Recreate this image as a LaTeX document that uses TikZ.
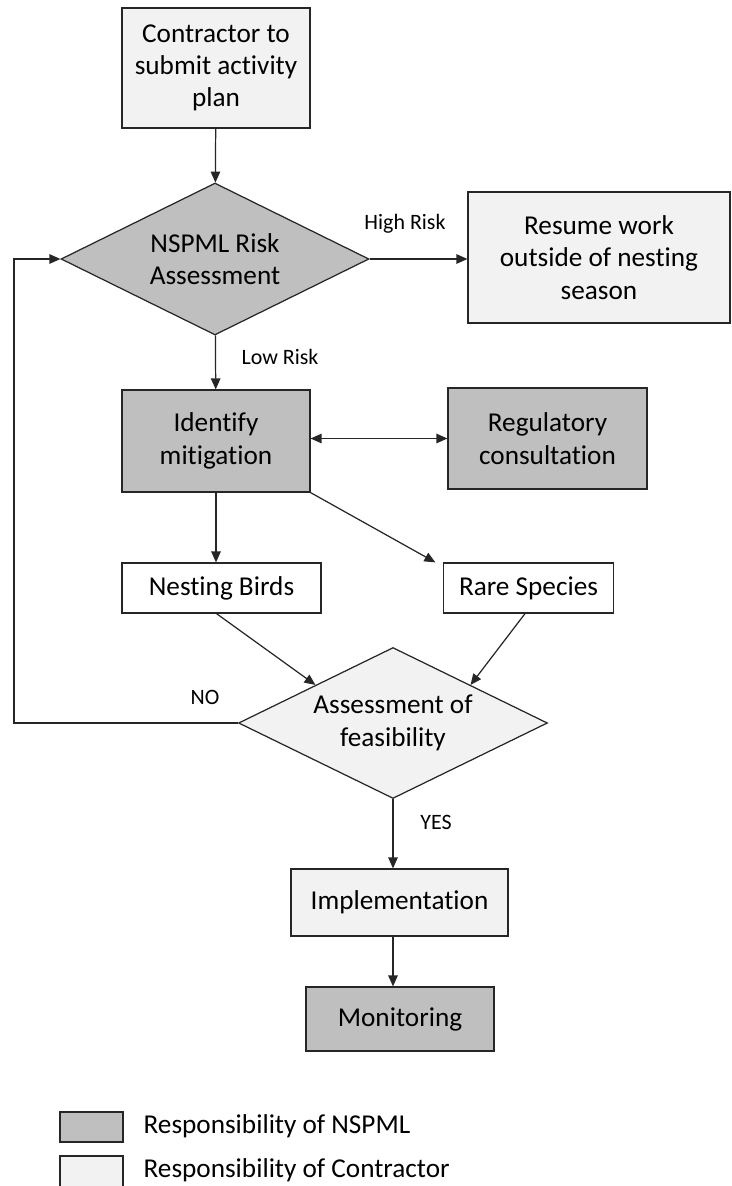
\documentclass[tikz,border=0pt]{standalone}
\usepackage{fontspec}
\setmainfont{Carlito}[Ligatures=NoCommon]
\usepackage{tikz}
\usetikzlibrary{arrows.meta,positioning,shapes.geometric}
\definecolor{nspml}{HTML}{BFBFBF}
\definecolor{contractor}{HTML}{F2F2F2}
\definecolor{edge}{HTML}{262626}

\begin{document}
\begin{tikzpicture}[
    x=0.02cm, y=-0.02cm,
    box/.style={draw=edge, line width=0.7pt, align=center, inner sep=2pt, font=\fontsize{15.5}{18.4}\selectfont},
    decision/.style={draw=edge, line width=0.7pt, diamond, aspect=2, inner sep=0pt, align=center, font=\fontsize{15.5}{18.4}\selectfont},
    ours/.style={fill=nspml},
    theirs/.style={fill=contractor},
    tag/.style={font=\fontsize{12.5}{15}\selectfont, inner sep=0pt},
    link/.style={-{Triangle[length=0.22cm, width=0.19cm]}, line width=0.7pt, color=edge}
]
    \useasboundingbox (0,0) rectangle (731,1186);

    \node[box, theirs, minimum width=3.76cm, minimum height=2.4cm] (plan) at (216,68) {Contractor to\\submit activity\\plan};
    \node[decision, ours, minimum width=6.16cm, minimum height=3.04cm] (risk) at (215,259) {NSPML Risk\\Assessment};
    \node[box, theirs, minimum width=5.24cm, minimum height=2.62cm] (resume) at (599,257.5) {Resume work\\outside of nesting\\season};
    \node[box, ours, minimum width=3.76cm, minimum height=2.04cm] (ident) at (216,441) {Identify\\mitigation};
    \node[box, ours, minimum width=3.98cm, minimum height=2.02cm] (reg) at (547.5,438.5) {Regulatory\\consultation};
    \node[box, fill=white, minimum width=3.98cm, minimum height=1.0cm] (nest) at (221.5,588) {Nesting Birds};
    \node[box, fill=white, minimum width=3.4cm, minimum height=1.0cm] (rare) at (528.5,588) {Rare Species};
    \node[decision, theirs, minimum width=6.18cm, minimum height=3.02cm] (feas) at (393,723) {Assessment of\\feasibility};
    \node[box, theirs, minimum width=4.34cm, minimum height=1.34cm] (impl) at (399.5,902.5) {Implementation};
    \node[box, ours, minimum width=3.76cm, minimum height=1.28cm] (mon) at (400,1019) {Monitoring};

    \node[box, ours, minimum width=1.26cm, minimum height=0.6cm] (keyA) at (91.5,1127) {};
    \node[box, theirs, minimum width=1.26cm, minimum height=0.72cm] (keyB) at (91.5,1174) {};
    \node[box, draw=none, anchor=west, inner sep=0pt] (keyAtext) at (143,1126) {Responsibility of NSPML};
    \node[box, draw=none, anchor=west, inner sep=0pt] (keyBtext) at (143,1170) {Responsibility of Contractor};

    \node[tag] (high) at (405,224) {High Risk};
    \node[tag] (low) at (280,357) {Low Risk};
    \node[tag] (no) at (205,697) {NO};
    \node[tag] (yes) at (436,822) {YES};

    \coordinate (back) at (14,723);

    \draw[link] (plan) -- (risk);
    \draw[link] (risk.east) -- (risk.east -| resume.west);
    \draw[link] (risk) -- (ident);
    \draw[link, {Triangle[length=0.22cm, width=0.19cm]}-{Triangle[length=0.22cm, width=0.19cm]}] (reg.west -| ident.east) -- (reg.west);
    \draw[link] (ident.south) -- (ident.south |- nest.north);
    \draw[link] (ident.south east) -- ([xshift=-0.15cm]rare.north west);
    \draw[link] ([xshift=-0.1cm]nest.south) -- (feas.north west);
    \draw[link] ([xshift=-0.07cm]rare.south) -- (feas.north east);
    \draw[link] (feas.west) -- (back) |- (risk.west);
    \draw[link] (feas.south) -- (feas.south |- impl.north);
    \draw[link] (impl.south -| feas.south) -- (mon.north -| feas.south);
\end{tikzpicture}
\end{document}
